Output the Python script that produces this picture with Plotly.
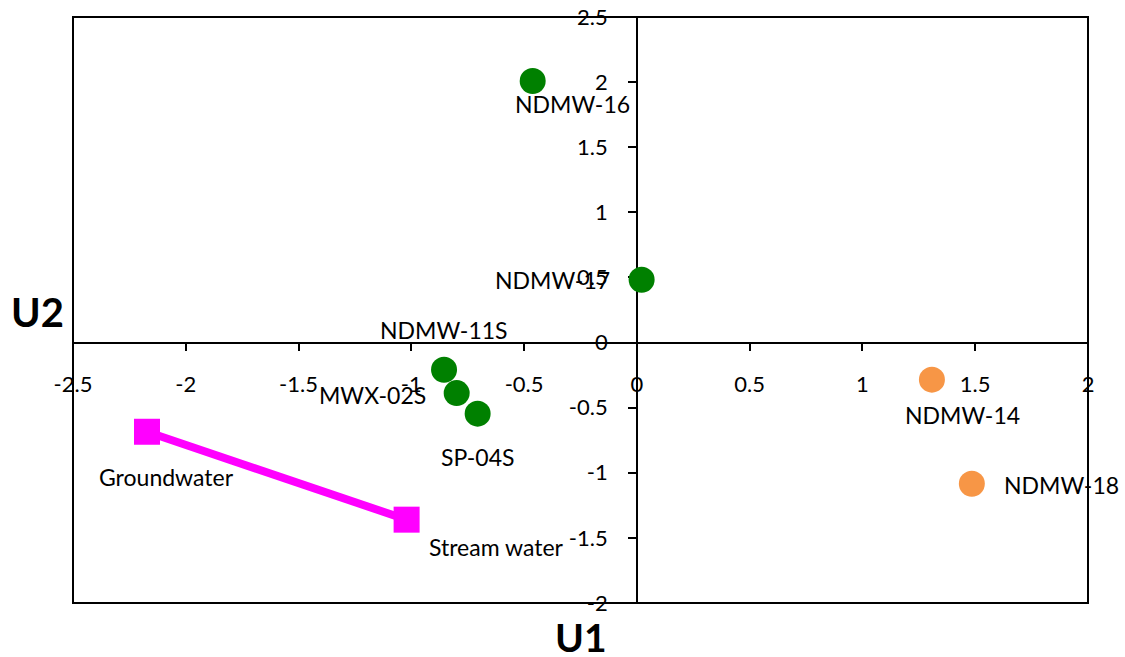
import plotly.graph_objects as go

# ---- data ----
green_names = ["NDMW-16", "NDMW-17", "NDMW-11S", "MWX-02S", "SP-04S"]
green_u1 = [-0.462, 0.021, -0.855, -0.799, -0.706]
green_u2 = [2.009, 0.482, -0.209, -0.388, -0.546]

orange_names = ["NDMW-14", "NDMW-18"]
orange_u1 = [1.308, 1.485]
orange_u2 = [-0.285, -1.084]

end_names = ["Groundwater", "Stream water"]
end_u1 = [-2.172, -1.021]
end_u2 = [-0.685, -1.360]

x_tickvals = [-2.5, -2, -1.5, -1, -0.5, 0, 0.5, 1, 1.5, 2]
x_ticktext = ["-2.5", "-2", "-1.5", "-1", "-0.5", "0", "0.5", "1", "1.5", "2"]
y_tickvals = [-2, -1.5, -1, -0.5, 0, 0.5, 1, 1.5, 2, 2.5]
y_ticktext = ["-2", "-1.5", "-1", "-0.5", "0", "0.5", "1", "1.5", "2", "2.5"]

# label offsets (pixels) relative to marker: (xshift, yshift, xanchor)
label_style = {
    "NDMW-16": (40, -23, "center"),
    "NDMW-17": (-30, 0, "right"),
    "NDMW-11S": (0, 40, "center"),
    "MWX-02S": (-29, -2, "right"),
    "SP-04S": (0, -43, "center"),
    "NDMW-14": (31, -35, "center"),
    "NDMW-18": (30, -1, "left"),
    "Groundwater": (20, -45, "center"),
    "Stream water": (90, -27, "center"),
}

FONT = "Lato"

fig = go.Figure()
fig.add_trace(go.Scatter(
    x=end_u1, y=end_u2, mode="lines+markers",
    line=dict(color="#FF00FF", width=8),
    marker=dict(symbol="square", size=26, color="#FF00FF"),
    showlegend=False, hoverinfo="skip"))
fig.add_trace(go.Scatter(
    x=green_u1, y=green_u2, mode="markers",
    marker=dict(symbol="circle", size=26, color="#008000"),
    showlegend=False))
fig.add_trace(go.Scatter(
    x=orange_u1, y=orange_u2, mode="markers",
    marker=dict(symbol="circle", size=26, color="#F79646"),
    showlegend=False))

annotations = []
for names, xs, ys in [(green_names, green_u1, green_u2),
                      (orange_names, orange_u1, orange_u2),
                      (end_names, end_u1, end_u2)]:
    for n, xv, yv in zip(names, xs, ys):
        xs_, ys_, xa = label_style[n]
        annotations.append(dict(
            x=xv, y=yv, xref="x", yref="y", text=n, showarrow=False,
            xshift=xs_, yshift=ys_, xanchor=xa, yanchor="middle",
            font=dict(family=FONT, size=23, color="black")))

annotations.append(dict(x=0.5005, y=-0.058, xref="paper", yref="paper",
                        text="<b>U1</b>", showarrow=False, xanchor="center",
                        yanchor="middle",
                        font=dict(family=FONT, size=39, color="black")))
annotations.append(dict(x=-0.035, y=0.497, xref="paper", yref="paper",
                        text="<b>U2</b>", showarrow=False, xanchor="center",
                        yanchor="middle",
                        font=dict(family=FONT, size=40, color="black")))

fig.update_layout(
    width=1125, height=657,
    margin=dict(l=73, r=37, t=17, b=54, pad=0),
    paper_bgcolor="white", plot_bgcolor="white",
    annotations=annotations,
    shapes=[dict(type="rect", xref="paper", yref="paper", x0=0, y0=0, x1=1, y1=1,
                 line=dict(color="black", width=2), layer="below")],
    xaxis=dict(range=[-2.5, 2], tickvals=x_tickvals, ticktext=x_ticktext,
               showgrid=False, zeroline=False, showline=True, linecolor="black",
               linewidth=1.5, ticks="outside", ticklen=8, tickcolor="black",
               tickwidth=1.5, anchor="free", position=2 / 4.5,
               ticklabelstandoff=14, layer="below traces", automargin=False,
               tickfont=dict(family=FONT, size=22, color="black")),
    yaxis=dict(range=[-2, 2.5], tickvals=y_tickvals, ticktext=y_ticktext,
               showgrid=False, zeroline=False, showline=True, linecolor="black",
               linewidth=1.5, ticks="outside", ticklen=8, tickcolor="black",
               tickwidth=1.5, anchor="free", position=2.5 / 4.5,
               ticklabelstandoff=16, layer="below traces", automargin=False,
               tickfont=dict(family=FONT, size=22, color="black")),
)

fig.write_html("out.html")
